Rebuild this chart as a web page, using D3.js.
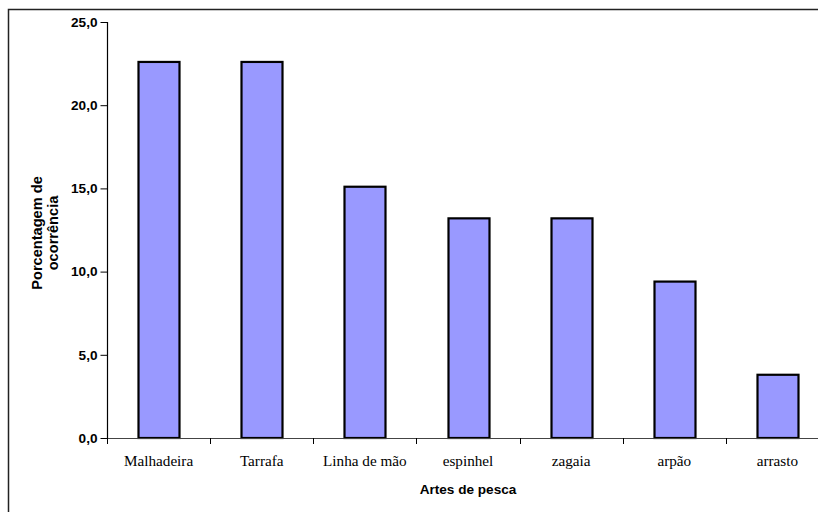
<!DOCTYPE html>
<html>
<head>
<meta charset="utf-8">
<script src="https://cdn.jsdelivr.net/npm/d3@7"></script>
<style>
  html, body { margin: 0; padding: 0; background: #fff; }
  svg { display: block; }
</style>
</head>
<body>
<svg id="chart" width="818" height="512"></svg>
<script>
// Fishing gear occurrence (%)
const categories = ["Malhadeira", "Tarrafa", "Linha de mão", "espinhel", "zagaia", "arpão", "arrasto"];
const values = [22.6, 22.6, 15.1, 13.2, 13.2, 9.4, 3.8];
const yTicks = [0, 5, 10, 15, 20, 25];
const yTitleLines = ["Porcentagem de", "ocorrência"];
const xTitle = "Artes de pesca";

const svg = d3.select("#chart");

// chart frame (continues past the right/bottom edge)
svg.append("rect")
  .attr("x", 8.5).attr("y", 9.5)
  .attr("width", 840).attr("height", 520)
  .attr("fill", "#fff")
  .attr("stroke", "#222").attr("stroke-width", 1.5);

const plot = { left: 107, right: 829, top: 22, bottom: 438 };

const xBand = d3.scaleBand().domain(categories).range([plot.left, plot.right]);
const y = d3.scaleLinear().domain([0, 25]).range([plot.bottom, plot.top]);

// bars
svg.append("g").selectAll("rect")
  .data(categories)
  .join("rect")
  .attr("x", (d) => Math.round(xBand(d) + xBand.bandwidth() / 2 - 20.5) + 0.5)
  .attr("width", 41)
  .attr("y", (d, i) => y(values[i]))
  .attr("height", (d, i) => y(0) - y(values[i]))
  .attr("fill", "#9999FF")
  .attr("stroke", "#000")
  .attr("stroke-width", 2.2);

// y axis
const yAxis = d3.axisLeft(y)
  .tickValues(yTicks)
  .tickSize(7)
  .tickPadding(3)
  .tickFormat((d) => d3.format(".1f")(d).replace(".", ","));

const gy = svg.append("g")
  .attr("transform", `translate(${plot.left + 0.5},0)`)
  .call(yAxis);
gy.select(".domain").attr("stroke", "#000").attr("stroke-width", 1.2)
  .attr("d", `M0,${plot.top}V${plot.bottom}`);
gy.selectAll(".tick line").attr("stroke", "#000");
gy.selectAll(".tick text")
  .attr("font-family", "Arial, 'Liberation Sans', sans-serif")
  .attr("font-weight", "bold")
  .attr("font-size", 13.6)
  .attr("fill", "#000");

// x axis: ticks sit on category boundaries
const boundaries = categories.map((d) => xBand(d)).concat([plot.right]);
const gx = svg.append("g");
gx.append("line")
  .attr("x1", plot.left).attr("x2", plot.right)
  .attr("y1", plot.bottom + 0.5).attr("y2", plot.bottom + 0.5)
  .attr("stroke", "#444").attr("stroke-width", 1.2);
gx.selectAll("line.tick")
  .data(boundaries)
  .join("line")
  .attr("class", "tick")
  .attr("x1", (d) => Math.round(d) + 0.5).attr("x2", (d) => Math.round(d) + 0.5)
  .attr("y1", plot.bottom).attr("y2", plot.bottom + 6)
  .attr("stroke", "#000");
gx.selectAll("text")
  .data(categories)
  .join("text")
  .attr("x", (d) => xBand(d) + xBand.bandwidth() / 2)
  .attr("y", 466)
  .attr("text-anchor", "middle")
  .attr("font-family", "'Liberation Serif', 'Times New Roman', serif")
  .attr("font-size", 15.2)
  .attr("fill", "#000")
  .text((d) => d);

// axis titles
svg.append("text")
  .attr("x", (plot.left + plot.right) / 2)
  .attr("y", 494)
  .attr("text-anchor", "middle")
  .attr("font-family", "Arial, 'Liberation Sans', sans-serif")
  .attr("font-weight", "bold")
  .attr("font-size", 13.6)
  .attr("fill", "#000")
  .text(xTitle);

const yt = svg.append("text")
  .attr("transform", `translate(41.5,233) rotate(-90)`)
  .attr("text-anchor", "middle")
  .attr("font-family", "Arial, 'Liberation Sans', sans-serif")
  .attr("font-weight", "bold")
  .attr("font-size", 14.6)
  .attr("fill", "#000");
yt.selectAll("tspan")
  .data(yTitleLines)
  .join("tspan")
  .attr("x", 0)
  .attr("dy", (d, i) => (i === 0 ? 0 : 16.5))
  .text((d) => d);
</script>
</body>
</html>
